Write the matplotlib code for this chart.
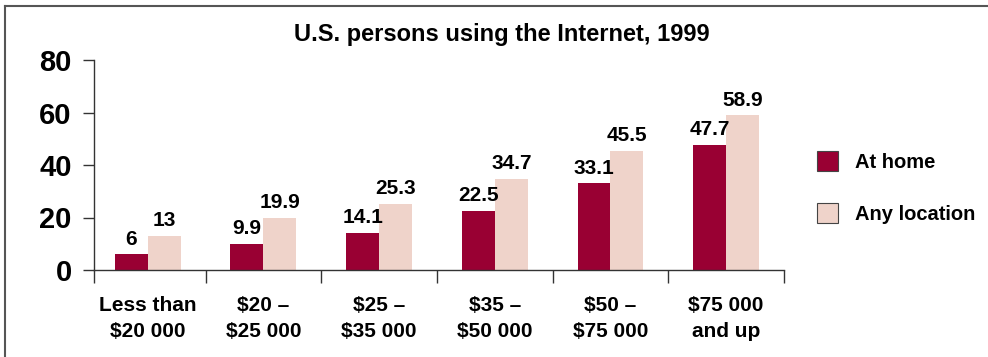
import matplotlib.pyplot as plt
import matplotlib.lines as mlines
import numpy as np

# income brackets and percent of persons using the Internet
brackets = ["Less than\n$20 000", "$20 \u2013\n$25 000", "$25 \u2013\n$35 000",
            "$35 \u2013\n$50 000", "$50 \u2013\n$75 000", "$75 000\nand up"]
at_home = [6, 9.9, 14.1, 22.5, 33.1, 47.7]
any_location = [13, 19.9, 25.3, 34.7, 45.5, 58.9]
home_labels = ["6", "9.9", "14.1", "22.5", "33.1", "47.7"]
any_labels = ["13", "19.9", "25.3", "34.7", "45.5", "58.9"]

home_color = "#990033"
any_color = "#EFD3CA"

plt.rcParams['font.family'] = ['Liberation Sans', 'DejaVu Sans']
plt.rcParams['font.weight'] = 'bold'

fig = plt.figure(figsize=(9.88, 3.57), dpi=100)
ax = fig.add_axes([94 / 988, 1 - 270 / 357, 690 / 988, 210 / 357])

x = np.arange(len(brackets))
w = 0.285
b1 = ax.bar(x - w / 2, at_home, w, color=home_color, label="At home")
b2 = ax.bar(x + w / 2, any_location, w, color=any_color, label="Any location")

for rect, txt in zip(b1, home_labels):
    ax.annotate(txt, (rect.get_x() + rect.get_width() / 2, rect.get_height()),
                xytext=(0, 4), textcoords="offset points",
                ha="center", va="bottom", fontsize=15, fontweight="bold")
for rect, txt in zip(b2, any_labels):
    ax.annotate(txt, (rect.get_x() + rect.get_width() / 2, rect.get_height()),
                xytext=(0, 4), textcoords="offset points",
                ha="center", va="bottom", fontsize=15, fontweight="bold")

# first group sits a little closer to the y axis
left = -0.465
ax.set_xlim(left, len(brackets) - 0.5)
ax.set_ylim(0, 80)
ax.set_yticks([0, 20, 40, 60, 80])
ax.tick_params(axis="y", labelsize=21, length=8, width=1, pad=8, color="#333333")

# category boundaries as ticks, names in between
ax.set_xticks([left] + list(np.arange(1, len(brackets) + 1) - 0.5))
ax.set_xticklabels([])
ax.set_xticks(x, minor=True)
ax.set_xticklabels(brackets, minor=True, fontsize=15, fontweight="bold",
                   linespacing=1.45)
ax.tick_params(axis="x", which="major", length=9, width=1, color="#333333")
ax.tick_params(axis="x", which="minor", length=0, pad=19)

for side in ["top", "right"]:
    ax.spines[side].set_visible(False)
for side in ["left", "bottom"]:
    ax.spines[side].set_color("#333333")
    ax.spines[side].set_linewidth(1)

fig.text(502 / 988, 1 - 35 / 357, "U.S. persons using the Internet, 1999",
         ha="center", va="center", fontsize=17, fontweight="bold")

leg = fig.legend(handles=[b1, b2], loc="upper left",
                 bbox_to_anchor=(809 / 988, 1 - 143 / 357), frameon=False,
                 fontsize=14.5, handlelength=1.05, handleheight=1.15,
                 handletextpad=0.85, labelspacing=1.55, borderaxespad=0)
for patch in leg.get_patches():
    patch.set_edgecolor("#444444")
    patch.set_linewidth(0.8)

# frame lines along the top and left edge
fig.add_artist(mlines.Line2D([5 / 988, 1], [1 - 6 / 357, 1 - 6 / 357],
                             color="#555555", lw=1.5, transform=fig.transFigure))
fig.add_artist(mlines.Line2D([5 / 988, 5 / 988], [0, 1 - 6 / 357],
                             color="#555555", lw=1.5, transform=fig.transFigure))

fig.savefig("out.png", dpi=100)
